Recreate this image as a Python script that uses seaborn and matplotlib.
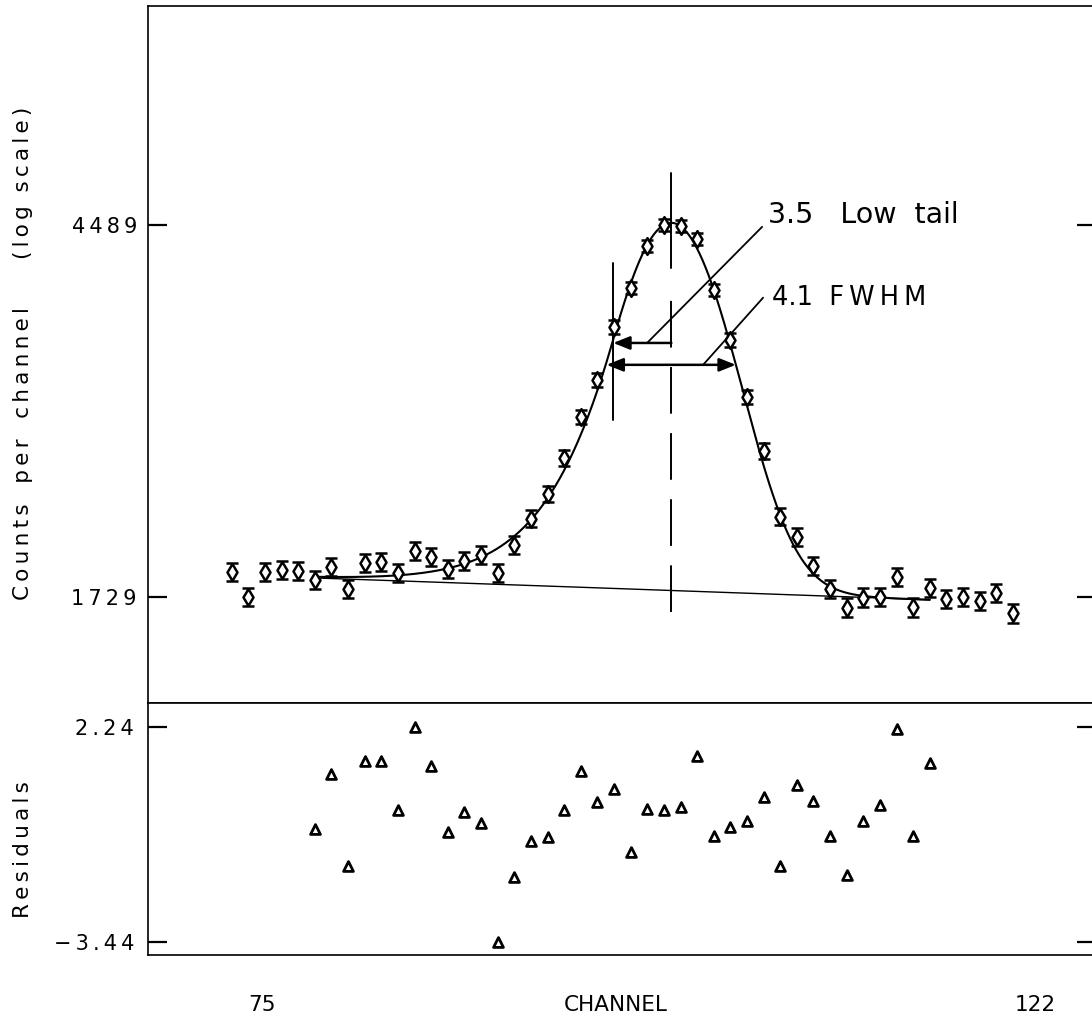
import numpy as np
import pandas as pd
import matplotlib
matplotlib.use("Agg")
import matplotlib.pyplot as plt
import seaborn as sns

# ---- measured spectrum (counts per channel) ----
channels = list(range(75, 123))
counts = [1843, 1729, 1843, 1853, 1848, 1806, 1867, 1765, 1887, 1891,
          1839, 1945, 1916, 1858, 1896, 1926, 1839, 1976, 2112, 2252,
          2470, 2743, 3016, 3456, 3819, 4254, 4489, 4478, 4331, 3800,
          3342, 2888, 2514, 2123, 2017, 1872, 1765, 1681, 1725, 1729,
          1820, 1685, 1769, 1720, 1729, 1711, 1747, 1659]

# ---- normalised residuals over the fit region ----
resid_channels = list(range(80, 118))
residuals = [-0.45, 1.01, -1.44, 1.33, 1.33, 0.05, 2.24, 1.20, -0.53, 0.00,
             -0.29, -3.44, -1.71, -0.77, -0.67, 0.05, 1.07, 0.27, 0.59, -1.07,
             0.08, 0.05, 0.13, 1.47, -0.64, -0.40, -0.24, 0.40, -1.44, 0.72,
             0.29, -0.64, -1.68, -0.24, 0.19, 2.19, -0.64, 1.28]

count_ticks = [1729, 4489]
resid_ticks = [-3.44, 2.24]
resid_tick_labels = ["\u22123.44", "2.24"]
x_end_labels = ["75", "122"]

# ---- peak fit parameters ----
centroid = 101.45
peak_height = 2755.0
fwhm_kev = 4.1
kev_per_channel = 0.525
low_tail = 3.5
fit_start, fit_end = 80, 117
baseline_start, baseline_end = 1815.0, 1716.0

fwhm_ch = fwhm_kev / kev_per_channel
sigma = fwhm_ch / (2.0 * np.sqrt(2.0 * np.log(2.0)))


def baseline(x):
    t = (np.asarray(x, float) - fit_start) / (fit_end - fit_start)
    return baseline_start + t * (baseline_end - baseline_start)


def peak(x):
    u = np.asarray(x, float) - centroid
    s2 = 2.0 * sigma ** 2
    gauss = np.exp(-u ** 2 / s2)
    tail = np.exp(low_tail * (2.0 * u + low_tail) / s2)
    return peak_height * np.where(u >= -low_tail, gauss, tail)


xfit = np.linspace(fit_start, fit_end, 800)
fit_df = pd.DataFrame({"channel": xfit, "fit": baseline(xfit) + peak(xfit),
                       "bg": baseline(xfit)})
data_df = pd.DataFrame({"channel": channels, "counts": counts})
res_df = pd.DataFrame({"channel": resid_channels, "residual": residuals})

# half-maximum crossing points of the fitted peak
half_level = baseline(centroid) + peak_height / 2.0
net = peak(xfit)
above = xfit[net >= peak_height / 2.0]
hm_left, hm_right = above.min(), above.max()
tail_x = centroid - low_tail
tail_level = 3316.0


def spaced(s, sep="\u2009"):
    return sep.join(s)


sns.set_style("white")
plt.rcParams["font.family"] = ["DejaVu Sans"]
plt.rcParams.update({
    "axes.linewidth": 1.2,
    "axes.edgecolor": "black",
    "text.color": "black",
    "xtick.color": "black",
    "ytick.color": "black",
    "ytick.labelcolor": "black",
})

W, H = 1092, 1023
fig = plt.figure(figsize=(W / 100, H / 100), dpi=100)


def px_axes(left, top, right, bottom):
    return fig.add_axes([left / W, 1 - bottom / H, (right - left) / W,
                         (bottom - top) / H])


ax = px_axes(148, 6, 1096, 703)
axr = px_axes(148, 703, 1096, 955)

xlim = (69.96, 127.0)

# ---- upper panel: spectrum on log scale ----
ax.set_yscale("log")
ax.errorbar(data_df["channel"], data_df["counts"],
            yerr=np.sqrt(data_df["counts"]), fmt="none", ecolor="black",
            elinewidth=1.6, capsize=4.0, capthick=1.8, zorder=3)
sns.scatterplot(data=data_df, x="channel", y="counts", marker="d", s=72,
                facecolor="white", edgecolor="black", linewidth=1.8,
                ax=ax, zorder=4, legend=False)
sns.lineplot(data=fit_df, x="channel", y="fit", color="black", lw=1.5,
             ax=ax, sort=False, estimator=None, zorder=2)
sns.lineplot(data=fit_df, x="channel", y="bg", color="black", lw=1.0,
             ax=ax, sort=False, estimator=None, zorder=2)

ax.set_xlim(*xlim)
ax.set_ylim(1317, 7869)

# centroid marker: solid through the top, dashed below
ax.plot([centroid, centroid], [5129, 4020], color="black", lw=1.4, zorder=2)
ax.plot([centroid, centroid], [1664, 3700], color="black", lw=1.4,
        linestyle=(0, (24, 10)), zorder=2)
# tail junction marker
ax.plot([tail_x, tail_x], [4072, 2723], color="black", lw=1.4, zorder=2)

ax.annotate("", xy=(tail_x, tail_level), xytext=(centroid, tail_level),
            arrowprops=dict(arrowstyle="-|>,head_length=1.0,head_width=0.4",
                            color="black", lw=1.8, shrinkA=0, shrinkB=0),
            zorder=5)
ax.annotate("", xy=(hm_left, half_level), xytext=(hm_right, half_level),
            arrowprops=dict(arrowstyle="<|-|>,head_length=1.0,head_width=0.4",
                            color="black", lw=1.8, shrinkA=0, shrinkB=0),
            zorder=5)

# leader lines to the labels
ax.plot([106.91, 99.99], [4466, tail_level], color="black", lw=1.3)
ax.plot([106.97, 103.36], [3724, half_level], color="black", lw=1.3)
ax.text(107.27, 4512, "3.5   Low  tail", fontsize=20.5, va="baseline",
        ha="left")
ax.text(107.5, 3657, "4.1  " + spaced("FWHM"), fontsize=18.5, va="baseline",
        ha="left")

ax.set_yticks(count_ticks, labels=[spaced(str(t)) for t in count_ticks])
ax.yaxis.set_minor_locator(matplotlib.ticker.NullLocator())
ax.set_xticks([])
ax.tick_params(axis="y", which="major", direction="in", length=14, width=1.6,
               left=True, right=True, labelsize=15, pad=8)
ax.set_xlabel("")
ax.set_ylabel("")

# ---- lower panel: residuals ----
sns.scatterplot(data=res_df, x="channel", y="residual", marker="^", s=50,
                facecolor="white", edgecolor="black", linewidth=2.0,
                ax=axr, legend=False, zorder=3)
axr.set_xlim(*xlim)
axr.set_ylim(-3.783, 2.874)
axr.set_yticks(resid_ticks, labels=[spaced(t) for t in resid_tick_labels])
axr.set_xticks([])
axr.tick_params(axis="y", direction="in", length=14, width=1.6, left=True,
                right=True, labelsize=15, pad=10)
axr.set_xlabel("")
axr.set_ylabel("")

# ---- axis titles ----
fig.text(23 / W, 1 - 353 / H,
         "   ".join(spaced(w) for w in ["Counts", "per", "channel"]) +
         "       " + spaced("(log") + "  " + spaced("scale)"),
         rotation=90, ha="center", va="center", fontsize=15.5)
fig.text(23 / W, 1 - 850 / H, spaced("Residuals"), rotation=90,
         ha="center", va="center", fontsize=15.5)
fig.text(262 / W, 1 - 1005 / H, x_end_labels[0], ha="center", va="center",
         fontsize=15.5)
fig.text(1035 / W, 1 - 1005 / H, x_end_labels[1], ha="center", va="center",
         fontsize=15.5)
fig.text(616 / W, 1 - 1005 / H, "CHANNEL", ha="center", va="center",
         fontsize=15.5)

fig.savefig("out.png", dpi=100)
